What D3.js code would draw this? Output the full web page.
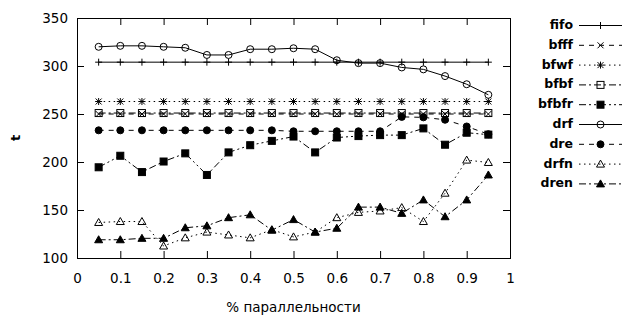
<!DOCTYPE html>
<html>
<head>
<meta charset="utf-8">
<script src="https://cdn.jsdelivr.net/npm/d3@7"></script>
<style>
  body { margin: 0; background: #fff; }
  svg text { font-family: "DejaVu Sans", sans-serif; fill: #000; }
</style>
</head>
<body>
<div id="chart"></div>
<script>
// x positions (% parallelism)
const xValues = [0.05, 0.1, 0.15, 0.2, 0.25, 0.3, 0.35, 0.4, 0.45, 0.5, 0.55, 0.6, 0.65, 0.7, 0.75, 0.8, 0.85, 0.9, 0.95];

// series values
const fifo  = [304, 304, 304, 304, 304, 304, 304, 304, 304, 304, 304, 304, 304, 304, 304, 304, 304, 304, 304];
const bfff  = [250, 250, 250, 250, 250, 250, 250, 250, 250, 250, 250, 250, 250, 250, 250, 250, 250, 250, 250];
const bfwf  = [263, 263, 263, 263, 263, 263, 263, 263, 263, 263, 263, 263, 263, 263, 263, 263, 263, 263, 263];
const bfbf  = [251, 251, 251, 251, 251, 251, 251, 251, 251, 251, 251, 251, 251, 251, 251, 251, 251, 251, 251];
const bfbfr = [194.5, 206.5, 189.5, 200.5, 209, 186.5, 210, 217.5, 222, 226.5, 210, 225.5, 227, 228, 228, 235, 218, 230.5, 228.5];
const drf   = [320, 321, 321, 320, 319, 311.5, 311.5, 317.5, 317.5, 318.5, 317.5, 306, 303, 303, 298.5, 296.5, 289.5, 281, 270];
const dre   = [233, 233, 233, 233, 233, 233, 233, 233, 233, 232, 232, 232, 232, 232, 247, 246.5, 244, 237, 229];
const drfn  = [137, 138, 138, 112.5, 121, 127, 124, 121, 129.5, 122, 127, 142, 147.5, 149, 152.5, 138, 167.5, 202, 199.5];
const dren  = [119, 119, 120.5, 120.5, 131.5, 133.5, 142, 145, 129, 140, 127, 131, 153, 153, 146.5, 160.5, 143, 160.5, 186.5];

const seriesNames = ['fifo', 'bfff', 'bfwf', 'bfbf', 'bfbfr', 'drf', 'dre', 'drfn', 'dren'];
const seriesValues = [fifo, bfff, bfwf, bfbf, bfbfr, drf, dre, drfn, dren];

const xTicks = [0, 0.1, 0.2, 0.3, 0.4, 0.5, 0.6, 0.7, 0.8, 0.9, 1];
const yTicks = [100, 150, 200, 250, 300, 350];

// gnuplot-like line and point types, cycled by series index
const dashes = [null, '5,5', '1.5,3.5', '7,3,2,3', '7,3,2,3,2,3'];
const points = ['plus', 'cross', 'star', 'box', 'boxF', 'circle', 'circleF', 'tri', 'triF'];

const width = 640, height = 320;
const margin = {top: 18, right: 130, bottom: 62, left: 77};
const innerW = 510 - margin.left;
const innerH = 258 - margin.top;

const svg = d3.select('#chart')
    .append('svg')
    .attr('width', width)
    .attr('height', height);

const g = svg.append('g')
    .attr('transform', `translate(${margin.left},${margin.top})`);

const x = d3.scaleLinear().domain([0, 1]).range([0, innerW]);
const y = d3.scaleLinear().domain([100, 350]).range([innerH, 0]);

const fmtX = d => d === 0 || d === 1 ? String(d) : d3.format('.1f')(d);

// axes with inward ticks, mirrored on top/right
const tick = 7;
const xAxisBottom = g.append('g')
    .attr('transform', `translate(0,${innerH})`)
    .call(d3.axisBottom(x).tickValues(xTicks).tickFormat(fmtX).tickSizeInner(-tick).tickSizeOuter(0).tickPadding(15));
const yAxisLeft = g.append('g')
    .call(d3.axisLeft(y).tickValues(yTicks).tickSizeInner(-tick).tickSizeOuter(0).tickPadding(9));
const xAxisTop = g.append('g')
    .call(d3.axisTop(x).tickValues(xTicks.slice(1, -1)).tickFormat('').tickSizeInner(-tick).tickSizeOuter(0));
const yAxisRight = g.append('g')
    .attr('transform', `translate(${innerW},0)`)
    .call(d3.axisRight(y).tickValues(yTicks.slice(1, -1)).tickFormat('').tickSizeInner(-tick).tickSizeOuter(0));

[xAxisBottom, yAxisLeft, xAxisTop, yAxisRight].forEach(a => {
    a.select('.domain').remove();
    a.selectAll('line').attr('stroke', '#000');
    a.selectAll('text').style('font-size', '13.5px').style('font-family', '"DejaVu Sans", sans-serif');
});
xAxisBottom.selectAll('.tick line').filter(d => d === 0 || d === 1).remove();
yAxisLeft.selectAll('.tick line').filter(d => d === 100 || d === 350).remove();

// frame
g.append('rect')
    .attr('x', 0.5).attr('y', 0.5)
    .attr('width', innerW).attr('height', innerH)
    .attr('fill', 'none')
    .attr('stroke', '#000');

// axis titles
svg.append('text')
    .attr('x', margin.left + innerW / 2)
    .attr('y', 308)
    .attr('text-anchor', 'middle')
    .attr('dominant-baseline', 'middle')
    .style('font-size', '13.5px')
    .text('% параллельности');

svg.append('text')
    .attr('transform', `translate(16,${margin.top + innerH / 2}) rotate(-90)`)
    .attr('text-anchor', 'middle')
    .attr('dominant-baseline', 'middle')
    .style('font-size', '13px')
    .style('font-weight', 'bold')
    .text('t');

function drawPoint(sel, type, cx, cy) {
    const s = 3.5;
    if (type === 'plus') {
        sel.append('path').attr('d', `M${cx - s},${cy}H${cx + s}M${cx},${cy - s}V${cy + s}`).attr('stroke', '#000');
    } else if (type === 'cross') {
        sel.append('path').attr('d', `M${cx - 3},${cy - 3}L${cx + 3},${cy + 3}M${cx - 3},${cy + 3}L${cx + 3},${cy - 3}`).attr('stroke', '#000');
    } else if (type === 'star') {
        sel.append('path').attr('d', `M${cx - s},${cy}H${cx + s}M${cx},${cy - s}V${cy + s}M${cx - 3},${cy - 3}L${cx + 3},${cy + 3}M${cx - 3},${cy + 3}L${cx + 3},${cy - 3}`).attr('stroke', '#000');
    } else if (type === 'box' || type === 'boxF') {
        sel.append('rect').attr('x', cx - s).attr('y', cy - s).attr('width', 2 * s).attr('height', 2 * s)
            .attr('fill', type === 'boxF' ? '#000' : 'none').attr('stroke', '#000');
    } else if (type === 'circle' || type === 'circleF') {
        sel.append('circle').attr('cx', cx).attr('cy', cy).attr('r', s)
            .attr('fill', type === 'circleF' ? '#000' : 'none').attr('stroke', '#000');
    } else {
        sel.append('path').attr('d', `M${cx},${cy - 4}L${cx + 4},${cy + 3}L${cx - 4},${cy + 3}Z`)
            .attr('fill', type === 'triF' ? '#000' : 'none').attr('stroke', '#000');
    }
}

const line = d3.line()
    .x((d, i) => x(xValues[i]))
    .y(d => y(d));

seriesNames.forEach((name, k) => {
    const vals = seriesValues[k];
    const grp = g.append('g').attr('class', 'series-' + name);
    grp.append('path')
        .attr('d', line(vals))
        .attr('fill', 'none')
        .attr('stroke', '#000')
        .attr('stroke-width', 1)
        .attr('stroke-dasharray', dashes[k % 5]);
    vals.forEach((v, i) => drawPoint(grp, points[k], x(xValues[i]), y(v)));

    // legend row
    const ly = 25.5 + k * 19.8;
    svg.append('text')
        .attr('x', 573)
        .attr('y', ly)
        .attr('text-anchor', 'end')
        .attr('dominant-baseline', 'middle')
        .style('font-size', '12.5px')
        .style('font-weight', 'bold')
        .text(name);
    const lg = svg.append('g');
    lg.append('line')
        .attr('x1', 579).attr('x2', 622)
        .attr('y1', ly).attr('y2', ly)
        .attr('stroke', '#000')
        .attr('stroke-dasharray', dashes[k % 5]);
    drawPoint(lg, points[k], 600.5, ly);
});
</script>
</body>
</html>
